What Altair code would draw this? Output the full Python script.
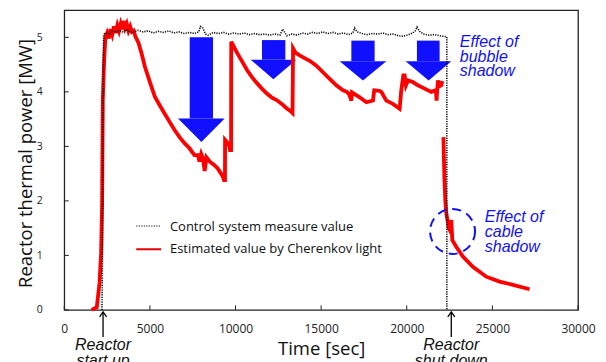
import altair as alt
import pandas as pd

# ---------------- data ----------------
# Estimated value by Cherenkov light (segment before shutdown)
red1_t = [1600, 1900, 2060, 2150, 2210, 2250, 2330, 2400, 2500, 2600, 2700, 2800, 2900, 3000,
          3100, 3200, 3300, 3400, 3460, 3550, 3650, 3750, 3850, 3950, 4050, 4150, 4330, 4500,
          4710, 5000, 5290, 5580, 5865, 6150, 6440, 6730, 7020, 7300, 7600, 7800, 7900, 8000,
          8100, 8200, 8300, 8500, 8750, 8950, 9135, 9250, 9330, 9385, 9390, 9550, 9650, 9680,
          9740, 9750, 10100, 10400, 10670, 10960, 11250, 11540, 11830, 12100, 12400, 12700,
          12980, 13200, 13330, 13360, 13500, 13746, 14030, 14330, 14720, 15106, 15497, 15888,
          16274, 16500, 16650, 16764, 16800, 17000, 17250, 17640, 18025, 18100, 18400, 18515,
          18807, 19190, 19500, 19583, 19680, 19800, 19875, 19950, 20068, 20360, 20650, 21040,
          21430, 21700, 21740, 21780, 21820, 21900, 22016, 22075]
red1_v = [0.0, 0.05, 0.5, 1.04, 1.96, 3.85, 4.6, 5.0, 5.08, 4.98, 5.15, 5.05, 5.2, 5.08,
          5.22, 5.12, 5.25, 5.15, 5.3, 5.17, 5.25, 5.12, 5.2, 5.1, 5.12, 5.02, 4.9, 4.72,
          4.46, 4.18, 3.91, 3.75, 3.6, 3.45, 3.3, 3.17, 3.06, 2.97, 2.84, 2.84, 2.72, 2.86,
          2.78, 2.55, 2.8, 2.72, 2.66, 2.6, 2.51, 2.45, 2.38, 2.38, 3.12, 3.06, 3.0, 2.93,
          2.93, 4.92, 4.71, 4.55, 4.4, 4.27, 4.16, 4.06, 3.97, 3.9, 3.85, 3.78,
          3.70, 3.65, 3.61, 4.8, 4.72, 4.67, 4.62, 4.57, 4.48, 4.36, 4.24, 4.12,
          4.03, 4.0, 3.95, 3.84, 3.99, 3.95, 3.9, 3.81, 3.84, 4.03, 4.02, 4.0,
          3.84, 3.78, 3.71, 3.69, 4.03, 4.3, 4.3, 4.12, 4.21, 4.18, 4.12, 4.06,
          4.0, 4.03, 3.84, 4.05, 4.21, 4.1, 4.12, 4.2]
# Estimated value by Cherenkov light (after shutdown)
red2_t = [22140, 22200, 22250, 22310, 22460, 22540, 22600, 22660, 22890, 23280, 23860,
          24640, 25420, 26200, 27170]
red2_v = [3.17, 2.4, 2.0, 1.77, 1.5, 1.45, 1.65, 1.28, 1.16, 0.98, 0.79, 0.61, 0.52, 0.46, 0.38]

# Control system measure value
ctl_t = [2200, 2230, 2260, 2300, 2400, 2600, 2800, 3000, 3200, 3400, 3600, 3800, 4000, 4300,
         4600, 4900, 5200, 5500, 5800, 6100, 6400, 6700, 7000, 7300, 7600, 7850, 7950, 8100,
         8250, 8400, 8700, 9000, 9300, 9600, 9900, 10200, 10500, 10800, 11100, 11400, 11700,
         12000, 12300, 12600, 12750, 12850, 13000, 13300, 13600, 13900, 14200, 14500, 14800,
         15100, 15400, 15700, 16000, 16300, 16600, 16850, 16950, 17100, 17400, 17700, 18000,
         18300, 18600, 18900, 19200, 19500, 19800, 20100, 20350, 20500, 20600, 20750, 21000,
         21300, 21600, 21900, 22150, 22340, 22340]
ctl_v = [0.0, 1.0, 3.5, 5.05, 5.08, 5.06, 5.12, 5.09, 5.13, 5.1, 5.14, 5.11, 5.09, 5.13,
         5.1, 5.12, 5.08, 5.11, 5.09, 5.12, 5.08, 5.1, 5.07, 5.09, 5.07, 5.1, 5.2, 5.17,
         5.06, 5.04, 5.09, 5.07, 5.09, 5.06, 5.08, 5.06, 5.08, 5.05, 5.07, 5.05, 5.06,
         5.04, 5.06, 5.04, 5.15, 5.1, 5.03, 5.06, 5.04, 5.08, 5.06, 5.09, 5.07,
         5.1, 5.07, 5.09, 5.06, 5.08, 5.05, 5.08, 5.17, 5.1, 5.07, 5.05, 5.07,
         5.06, 5.08, 5.05, 5.06, 5.03, 5.02, 5.05, 5.08, 5.12, 5.19, 5.11, 5.06,
         5.04, 5.05, 5.03, 5.02, 5.01, 0.0]

# Blue "bubble shadow" arrows
arr_left = [6643, 10886, 16081, 19933]
arr_right = [9368, 13553, 18807, 22600]
arr_tip_t = [8008, 12210, 17441, 21276]
arr_tip_v = [3.08, 4.23, 4.21, 4.21]
arr_base_v = [3.51, 4.59, 4.56, 4.56]
shaft_left = [7325, 11547, 16764, 20593]
shaft_right = [8686, 12910, 18124, 21918]
shaft_top = [5.0, 4.95, 4.94, 4.94]

# cable shadow circle
circ_t = [22673]
circ_v = [1.44]

# reactor start up / shut down markers
event_t = [2265, 22600]
event_lines = [["Reactor", "start up"], ["Reactor", "shut down"]]

x_ticks = [0, 5000, 10000, 15000, 20000, 25000, 30000]
y_ticks = [0, 1, 2, 3, 4, 5]

BLUE = "#1010ff"
SANS = "Open Sans"
ANN = "Liberation Sans"

# ---------------- tables ----------------
red_df = pd.DataFrame({
    "t": red1_t + red2_t,
    "v": red1_v + red2_v,
    "seg": [1] * len(red1_t) + [2] * len(red2_t),
    "i": list(range(len(red1_t) + len(red2_t))),
})
ctl_df = pd.DataFrame({"t": ctl_t, "v": ctl_v, "i": list(range(len(ctl_t)))})

shaft_df = pd.DataFrame({"t": shaft_left, "x2": shaft_right,
                         "v": shaft_top, "y2": arr_base_v})
rows = []
for k in range(len(arr_left)):
    rows.append({"k": k, "t": arr_left[k], "v": arr_base_v[k], "b": arr_base_v[k]})
    rows.append({"k": k, "t": arr_tip_t[k], "v": arr_tip_v[k], "b": arr_base_v[k]})
    rows.append({"k": k, "t": arr_right[k], "v": arr_base_v[k], "b": arr_base_v[k]})
head_df = pd.DataFrame(rows)
circ_df = pd.DataFrame({"t": circ_t, "v": circ_v})
ev_df = pd.DataFrame({"t": event_t, "lab": event_lines})
xt_df = pd.DataFrame({"t": x_ticks})
yt_df = pd.DataFrame({"v": y_ticks})

xs = alt.Scale(domain=[0, 30000], nice=False, zero=False)
ys = alt.Scale(domain=[0, 5.5], nice=False)

x_axis = alt.Axis(values=x_ticks, format="d", labelFont=SANS, labelFontSize=12,
                  labelColor="#222", ticks=False, labelPadding=14, labelFlush=False,
                  labelOverlap=False, domain=False, grid=False,
                  title="Time [sec]", titleFont=SANS, titleFontSize=18.5,
                  titleFontWeight="normal", titleColor="#111", titleY=45,
                  titleBaseline="alphabetic")
y_axis = alt.Axis(values=y_ticks, format="d", labelFont=SANS, labelFontSize=10.5,
                  labelColor="#222", ticks=False, labelPadding=22, domain=False, grid=False,
                  title="Reactor thermal power [MW]", titleFont=SANS, titleFontSize=18.5,
                  titleFontWeight="normal", titleColor="#111", titleAngle=270,
                  titleX=-33, titleY=153, titleAlign="center", titleBaseline="alphabetic")

X = alt.X("t:Q", scale=xs, axis=x_axis)
Y = alt.Y("v:Q", scale=ys, axis=y_axis)

shafts = alt.Chart(shaft_df).mark_rect(color=BLUE).encode(x=X, x2="x2:Q", y=Y, y2="y2:Q")
heads = alt.Chart(head_df).mark_area(color=BLUE, opacity=1).encode(
    x=X, y=Y, y2="b:Q", detail="k:N")

red = alt.Chart(red_df).mark_line(color="#ff0000", strokeWidth=3.8, strokeJoin="miter").encode(
    x=X, y=Y, detail="seg:N", order="i:Q")
ctl = alt.Chart(ctl_df).mark_line(color="#111", strokeWidth=1.6, strokeDash=[1.2, 1.2]).encode(
    x=X, y=Y, order="i:Q")

circle = alt.Chart(circ_df).mark_point(shape="circle", size=2025, filled=False, color=BLUE,
                                       strokeWidth=2, strokeDash=[9, 6], opacity=1).encode(
    x=X, y=Y)

xt = alt.Chart(xt_df).mark_rule(color="#222", strokeWidth=1).encode(
    x=X, y=alt.value(300), y2=alt.value(295.5))
yt = alt.Chart(yt_df).mark_rule(color="#222", strokeWidth=1).encode(
    y=Y, x=alt.value(0), x2=alt.value(4.5))

ev_rule = alt.Chart(ev_df).mark_rule(color="black", strokeWidth=1.3).encode(
    x=X, y=alt.value(302), y2=alt.value(327))
ev_head = alt.Chart(ev_df).mark_point(shape="M-1,1.4L0,0L1,1.4", size=49, filled=False,
                                      color="black", strokeWidth=1.3, opacity=1).encode(
    x=X, y=alt.value(302))
ev_text = alt.Chart(ev_df).mark_text(font=ANN, fontSize=16, fontStyle="italic", color="#111",
                                     align="center", baseline="alphabetic", lineHeight=16).encode(
    x=X, y=alt.value(340), text="lab")

bubble_txt = alt.Chart().mark_text(text=["Effect of", "bubble", "shadow"], font=ANN, fontSize=16,
                                   fontStyle="italic", color=BLUE, align="left",
                                   baseline="alphabetic", lineHeight=14.8).encode(
    x=alt.value(395.7), y=alt.value(36.7))
cable_txt = alt.Chart().mark_text(text=["Effect of", "cable", "shadow"], font=ANN, fontSize=16,
                                  fontStyle="italic", color=BLUE, align="left",
                                  baseline="alphabetic", lineHeight=15).encode(
    x=alt.value(420.7), y=alt.value(211.7))

leg1_line = alt.Chart().mark_rule(color="#111", strokeWidth=1.2, strokeDash=[1.2, 1.3]).encode(
    x=alt.value(72), x2=alt.value(96), y=alt.value(216))
leg2_line = alt.Chart().mark_rule(color="#e00000", strokeWidth=2).encode(
    x=alt.value(72), x2=alt.value(97), y=alt.value(239.3))
leg1_txt = alt.Chart().mark_text(text="Control system measure value", font=SANS, fontSize=13,
                                 color="#111", align="left", baseline="alphabetic").encode(
    x=alt.value(105.7), y=alt.value(220.7))
leg2_txt = alt.Chart().mark_text(text="Estimated value by Cherenkov light", font=SANS, fontSize=13,
                                 color="#111", align="left", baseline="alphabetic").encode(
    x=alt.value(105.7), y=alt.value(243.3))

chart = alt.layer(
    shafts, heads, red, ctl, circle, xt, yt, ev_rule, ev_head, ev_text,
    bubble_txt, cable_txt, leg1_line, leg2_line, leg1_txt, leg2_txt
).properties(
    width=514, height=300,
    padding={"left": 56.3, "top": 2, "right": 20, "bottom": 52},
    autosize=alt.AutoSizeParams(type="none"),
    background="white",
).configure_view(stroke="#222", strokeWidth=1.3)

chart.save("out.html", embed_options={"renderer": "svg", "actions": False})
